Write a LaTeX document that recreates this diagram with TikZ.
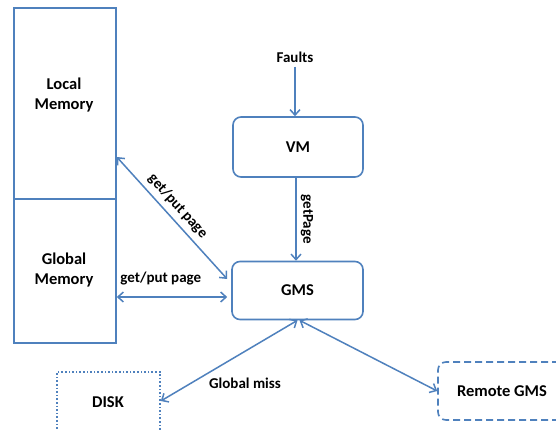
\documentclass[tikz,border=0pt]{standalone}
\usepackage{fontspec}
\setmainfont{Carlito}
\usetikzlibrary{arrows.meta,calc}
\definecolor{ob}{HTML}{4F81BD}
\tikzset{
  box/.style={draw=ob,line width=1.6pt,inner sep=0pt,font=\fontsize{16.5}{20}\selectfont\bfseries,align=center},
  rbox/.style={box,rounded corners=8pt},
  lbl/.style={font=\fontsize{15}{18}\selectfont\bfseries,inner sep=1pt},
  conn/.style={draw=ob,line width=1.5pt,{Straight Barb[length=5.5pt,width=10pt]}-{Straight Barb[length=5.5pt,width=10pt]}},
  oneway/.style={draw=ob,line width=1.5pt,-{Straight Barb[length=5.5pt,width=10pt]}}
}
\begin{document}
\begin{tikzpicture}[x=1pt,y=-1pt]
\useasboundingbox (0,0) rectangle (556,430);
\clip (0,0) rectangle (556,430);
\fill[white] (0,0) rectangle (556,430);
\node[box,minimum width=102pt,minimum height=191pt] (local) at (65,103.5) {};
\node[box,minimum width=102pt,minimum height=144pt] (global) at (65,271) {};
\node[font=\fontsize{16.5}{20.5}\selectfont\bfseries,align=center] (localt) at (64,95) {Local\\Memory};
\node[font=\fontsize{16.5}{20.5}\selectfont\bfseries,align=center] (globalt) at (64,270) {Global\\Memory};
\node[rbox,minimum width=130pt,minimum height=60pt] (vm) at (298,147) {VM};
\node[rbox,minimum width=131pt,minimum height=58pt] (gms) at (297.5,290.5) {GMS};
\node[lbl] (faults) at (295,57) {Faults};
\node[box,dotted,line width=1.6pt,minimum width=103pt,minimum height=70pt] (disk) at (108.5,407) {};
\node[font=\fontsize{16.5}{20}\selectfont\bfseries] (diskt) at (108,402) {DISK};
\node[box,dashed,dash pattern=on 7pt off 4pt,rounded corners=8pt,minimum width=140pt,minimum height=58pt] (remote) at (508,391) {};
\node[font=\fontsize{16.5}{20}\selectfont\bfseries] (remotet) at (502,391) {Remote GMS};
\draw[oneway] (faults.south) ++(0,-3pt) coordinate (fs) -- (fs |- vm.north);
\draw[oneway] (vm.south -| 296,0) -- (296,0 |- gms.north) node[lbl,midway,sloped,above=3pt] {getPage};
\draw[conn] ([yshift=-53.5pt]local.east) -- ([xshift=-4pt,yshift=11.5pt]gms.west) node[lbl,pos=0.47,sloped,above=4pt] {get/put page};
\draw[conn,shorten >=4pt] ([yshift=-26pt]global.east) coordinate (ge) -- (ge -| gms.west) node[lbl,pos=0.385,above=10pt] {get/put page};
\draw[conn] (gms.south) -- ([yshift=6pt]disk.east);
\draw[conn] ([xshift=2pt]gms.south) -- (remote.west);
\node[lbl] (gmiss) at (245,383) {Global miss};
\end{tikzpicture}
\end{document}
